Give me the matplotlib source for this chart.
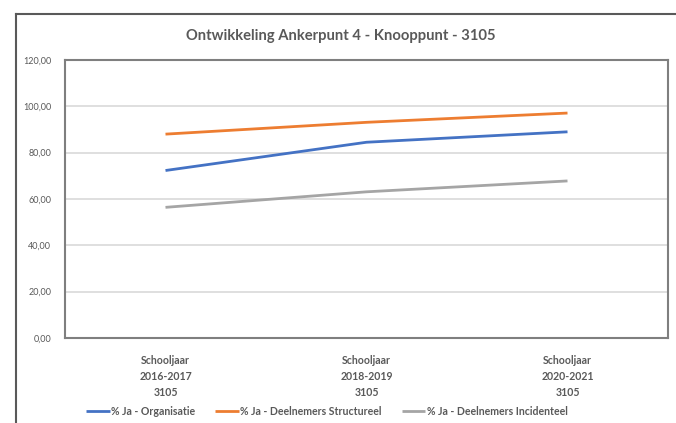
import matplotlib.pyplot as plt
from matplotlib.lines import Line2D

plt.rcParams['font.family'] = ['Lato', 'DejaVu Sans']

# Data
categories = ["Schooljaar\n2016-2017\n3105", "Schooljaar\n2018-2019\n3105", "Schooljaar\n2020-2021\n3105"]
organisatie = [72.3, 84.5, 89.0]
structureel = [88.0, 93.1, 97.1]
incidenteel = [56.4, 63.1, 67.8]
series_names = ["% Ja - Organisatie", "% Ja - Deelnemers Structureel", "% Ja - Deelnemers Incidenteel"]
colors = ["#4472C4", "#ED7D31", "#A5A5A5"]
yticks = [0, 20, 40, 60, 80, 100, 120]

text_color = "#595959"

fig = plt.figure(figsize=(6.76, 4.23), dpi=100)
ax = fig.add_axes([65 / 676, 1 - 338 / 423, (668 - 65) / 676, (338 - 60) / 423])

x = range(len(categories))
for vals, name, c in zip([organisatie, structureel, incidenteel], series_names, colors):
    ax.plot(x, vals, color=c, linewidth=2.0, solid_capstyle='butt', label=name, zorder=3)

ax.set_xlim(-0.5, len(categories) - 0.5)
ax.set_ylim(0, 120)
ax.set_yticks(yticks)
ax.set_yticklabels([f"{v:.2f}".replace(".", ",") for v in yticks], fontsize=6.5, color=text_color)
ax.set_xticks(list(x))
ax.set_xticklabels(categories, fontsize=7.6, fontweight='bold', color=text_color, linespacing=1.58)
ax.tick_params(axis='both', length=0)
ax.tick_params(axis='y', pad=10)
ax.tick_params(axis='x', pad=12)
ax.grid(axis='y', color="#D9D9D9", linewidth=1.2, zorder=0)

for side in ax.spines.values():
    side.set_color("#7F7F7F")
    side.set_linewidth(1.5)

fig.text(341 / 676, 1 - 36 / 423, "Ontwikkeling Ankerpunt 4 - Knooppunt - 3105",
         ha='center', va='center', fontsize=10.6, fontweight='bold', color=text_color)

# outer chart frame (cropped at right and bottom)
fig.add_artist(Line2D([16 / 676, 1.0], [1 - 14.5 / 423] * 2, transform=fig.transFigure,
                      color="#595959", linewidth=1.5))
fig.add_artist(Line2D([16 / 676] * 2, [0.0, 1 - 14.5 / 423], transform=fig.transFigure,
                      color="#595959", linewidth=1.5))

handles, labels = ax.get_legend_handles_labels()
leg = fig.legend(handles, labels, loc='center', bbox_to_anchor=(327 / 676, 1 - 411 / 423),
                 ncol=3, frameon=False, fontsize=7.6, handlelength=2.2, handletextpad=0.15,
                 columnspacing=1.9)
for t in leg.get_texts():
    t.set_color(text_color)
    t.set_fontweight('bold')

fig.savefig("out.png", dpi=100)
